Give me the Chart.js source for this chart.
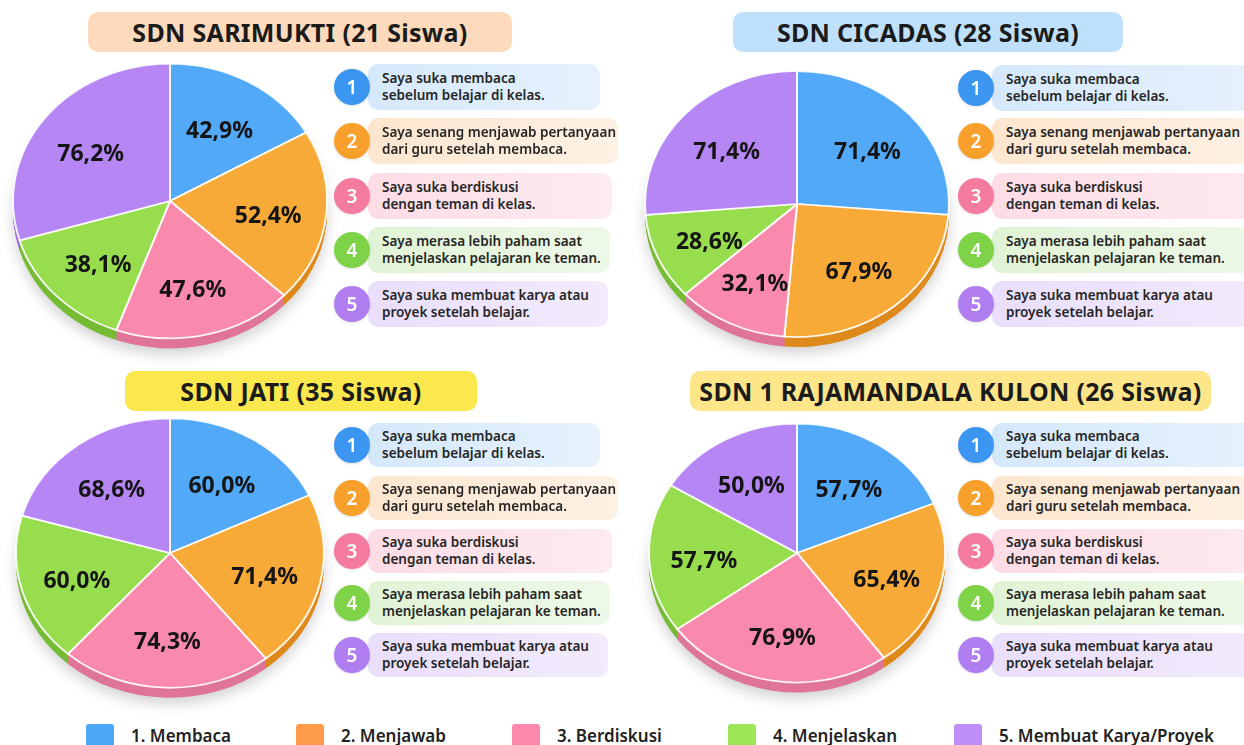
<!DOCTYPE html>
<html lang="id">
<head>
<meta charset="UTF-8">
<title>Survei Literasi Siswa</title>
<script src="https://cdn.jsdelivr.net/npm/chart.js"></script>
<style>
  html, body {
    margin: 0;
    width: 1244px;
    height: 745px;
    overflow: hidden;
    background: #fff;
    font-family: "Noto Sans", "Open Sans", sans-serif;
    position: relative;
  }
  .title {
    position: absolute;
    height: 40px;
    line-height: 40px;
    border-radius: 10px;
    text-align: center;
    font-size: 25px;
    letter-spacing: 0.3px;
    font-weight: 700;
    color: #1b1b1b;
    z-index: 3;
  }
  .pie {
    position: absolute;
    width: 360px;
    height: 360px;
    z-index: 1;
  }
  .item {
    position: absolute;
    z-index: 2;
  }
  .item .box {
    position: absolute;
    left: 16px;
    top: 0;
    border-radius: 10px;
    font-size: 13.5px;
    font-weight: 600;
    line-height: 17px;
    color: #262626;
    box-sizing: border-box;
    padding-left: 14px;
    display: flex;
    flex-direction: column;
    justify-content: center;
  }
  .item .num {
    position: absolute;
    left: -18px;
    width: 36px;
    height: 36px;
    border-radius: 50%;
    color: #fff;
    font-weight: 600;
    font-size: 19px;
    text-align: center;
    line-height: 36px;
    box-shadow: 0 1px 3px rgba(0,0,0,0.12);
  }
  #legend {
    position: absolute;
    left: 0;
    top: 722px;
    width: 1244px;
    height: 30px;
  }
  #legend .lg {
    position: absolute;
    top: 1px;
    font-size: 17px;
    font-weight: 600;
    color: #222;
    line-height: 26px;
  }
  #legend .sw {
    position: absolute;
    top: 2px;
    width: 28px;
    height: 24px;
    border-radius: 3px;
  }
</style>
</head>
<body>
<div id="legend"></div>
<script>
// data
const categories = ['1. Membaca', '2. Menjawab', '3. Berdiskusi', '4. Menjelaskan', '5. Membuat Karya/Proyek'];
const statements = [
  ['Saya suka membaca', 'sebelum belajar di kelas.'],
  ['Saya senang menjawab pertanyaan', 'dari guru setelah membaca.'],
  ['Saya suka berdiskusi', 'dengan teman di kelas.'],
  ['Saya merasa lebih paham saat', 'menjelaskan pelajaran ke teman.'],
  ['Saya suka membuat karya atau', 'proyek setelah belajar.']
];
const schools = ['SDN SARIMUKTI', 'SDN CICADAS', 'SDN JATI', 'SDN 1 RAJAMANDALA KULON'];
const studentCounts = [21, 28, 35, 26];
const sarimukti = [42.9, 52.4, 47.6, 38.1, 76.2];
const cicadas = [71.4, 67.9, 32.1, 28.6, 71.4];
const jati = [60.0, 71.4, 74.3, 60.0, 68.6];
const rajamandala = [57.7, 65.4, 76.9, 57.7, 50.0];
const schoolValues = [sarimukti, cicadas, jati, rajamandala];

// colours
const sliceColors = ['#52a9f7', '#f8aa38', '#f98aae', '#98dd4e', '#b687f4'];
const sideColors = ['#3b8ed8', '#de8a1c', '#df7598', '#76bb34', '#9a6ad6'];
const numColors = ['#3a96f1', '#f7a02c', '#f57aa0', '#7fd348', '#b17ef1'];
const boxColors = [
  ['#d5e8fb', '#e7f2fd'],
  ['#fde6cf', '#fdf1e4'],
  ['#fddce6', '#fdebf0'],
  ['#e1f3d6', '#eef8e8'],
  ['#e9defb', '#f2ebfc']
];
const legendColors = ['#4ba9f8', '#fd9b4a', '#fc88aa', '#9ce556', '#bd8ef6'];
const titleColors = ['#fcdabb', '#bfe0fa', '#fbe84e', '#fde58a'];

// layout per panel
const panels = [
  { title: [88, 12, 424], cx: 170, cy: 201, r: 157, listX: 352, tops: [64, 118, 173, 227, 281], h: 46, widths: [232, 250, 244, 242, 240] },
  { title: [733, 12, 390], cx: 797, cy: 204, r: 152, listX: 976, tops: [65, 118, 173, 227, 281], h: 46, widths: [280, 280, 280, 280, 280] },
  { title: [125, 371, 352], cx: 170, cy: 553, r: 154, listX: 352, tops: [423, 476, 529, 581, 633], h: 44, widths: [232, 250, 244, 242, 240] },
  { title: [690, 371, 521], cx: 797, cy: 553, r: 148, listX: 976, tops: [423, 476, 529, 581, 633], h: 44, widths: [280, 280, 280, 280, 280] }
];
const squash = 0.875;
const depth = 10;

const fmt = v => v.toFixed(1).replace('.', ',') + '%';

// tilted pie with a thick edge
const tiltPlugin = {
  id: 'tilt',
  beforeDatasetsDraw(chart) {
    const ctx = chart.ctx;
    const arcs = chart.getDatasetMeta(0).data;
    const { x, y } = arcs[0];
    ctx.save();
    ctx.translate(x, y);
    ctx.scale(1, squash);
    ctx.translate(-x, -y);
    const d0 = depth / squash;
    // soft shadow
    ctx.save();
    ctx.shadowColor = 'rgba(0,0,0,0.18)';
    ctx.shadowBlur = 14;
    ctx.shadowOffsetY = 6;
    ctx.beginPath();
    ctx.arc(x, y + d0, arcs[0].outerRadius, 0, Math.PI * 2);
    ctx.fillStyle = '#ddd';
    ctx.fill();
    ctx.restore();
    for (let d = d0; d > 0; d -= 1) {
      arcs.forEach((arc, i) => {
        ctx.beginPath();
        ctx.moveTo(x, y + d);
        ctx.arc(x, y + d, arc.outerRadius, arc.startAngle, arc.endAngle);
        ctx.closePath();
        ctx.fillStyle = sideColors[i];
        ctx.fill();
      });
    }
  },
  afterDatasetsDraw(chart) {
    const ctx = chart.ctx;
    ctx.restore();
    const arcs = chart.getDatasetMeta(0).data;
    const vals = chart.data.datasets[0].data;
    ctx.save();
    ctx.font = '700 23px "Noto Sans", sans-serif';
    ctx.fillStyle = '#151515';
    ctx.textAlign = 'center';
    ctx.textBaseline = 'middle';
    arcs.forEach((arc, i) => {
      const mid = (arc.startAngle + arc.endAngle) / 2;
      const rr = arc.outerRadius * 0.63;
      const lx = arc.x + Math.cos(mid) * rr;
      const ly = arc.y + Math.sin(mid) * rr * squash + 5;
      ctx.fillText(fmt(vals[i]), lx, ly);
    });
    ctx.restore();
  }
};

panels.forEach((p, k) => {
  // title
  const t = document.createElement('div');
  t.className = 'title';
  t.style.left = p.title[0] + 'px';
  t.style.top = p.title[1] + 'px';
  t.style.width = p.title[2] + 'px';
  t.style.background = titleColors[k];
  t.textContent = schools[k] + ' (' + studentCounts[k] + ' Siswa)';
  document.body.appendChild(t);

  // pie
  const wrap = document.createElement('div');
  wrap.className = 'pie';
  wrap.style.left = (p.cx - 180) + 'px';
  wrap.style.top = (p.cy - 180) + 'px';
  const cv = document.createElement('canvas');
  wrap.appendChild(cv);
  document.body.appendChild(wrap);
  const pad = (360 - 2 - 2 * p.r) / 2;
  new Chart(cv, {
    type: 'pie',
    data: {
      labels: categories,
      datasets: [{
        data: schoolValues[k],
        backgroundColor: sliceColors,
        borderColor: 'rgba(255,255,255,0.9)',
        borderWidth: 2,
        clip: false
      }]
    },
    options: {
      responsive: true,
      maintainAspectRatio: false,
      animation: false,
      layout: { padding: pad },
      plugins: { legend: { display: false }, tooltip: { enabled: false } }
    },
    plugins: [tiltPlugin]
  });

  // statement list
  statements.forEach((lines, i) => {
    const it = document.createElement('div');
    it.className = 'item';
    it.style.left = p.listX + 'px';
    it.style.top = p.tops[i] + 'px';
    const box = document.createElement('div');
    box.className = 'box';
    box.style.width = p.widths[i] + 'px';
    box.style.height = p.h + 'px';
    box.style.background = `linear-gradient(90deg, ${boxColors[i][0]}, ${boxColors[i][1]})`;
    box.innerHTML = '<div>' + lines[0] + '</div><div>' + lines[1] + '</div>';
    const num = document.createElement('div');
    num.className = 'num';
    num.style.top = (p.h / 2 - 18) + 'px';
    num.style.background = numColors[i];
    num.textContent = i + 1;
    it.appendChild(box);
    it.appendChild(num);
    document.body.appendChild(it);
  });
});

// bottom legend
const legendX = [86, 296, 512, 728, 954];
const lg = document.getElementById('legend');
categories.forEach((c, i) => {
  const sw = document.createElement('div');
  sw.className = 'sw';
  sw.style.left = legendX[i] + 'px';
  sw.style.background = legendColors[i];
  const tx = document.createElement('div');
  tx.className = 'lg';
  tx.style.left = (legendX[i] + 45) + 'px';
  tx.textContent = c;
  lg.appendChild(sw);
  lg.appendChild(tx);
});
</script>
</body>
</html>
